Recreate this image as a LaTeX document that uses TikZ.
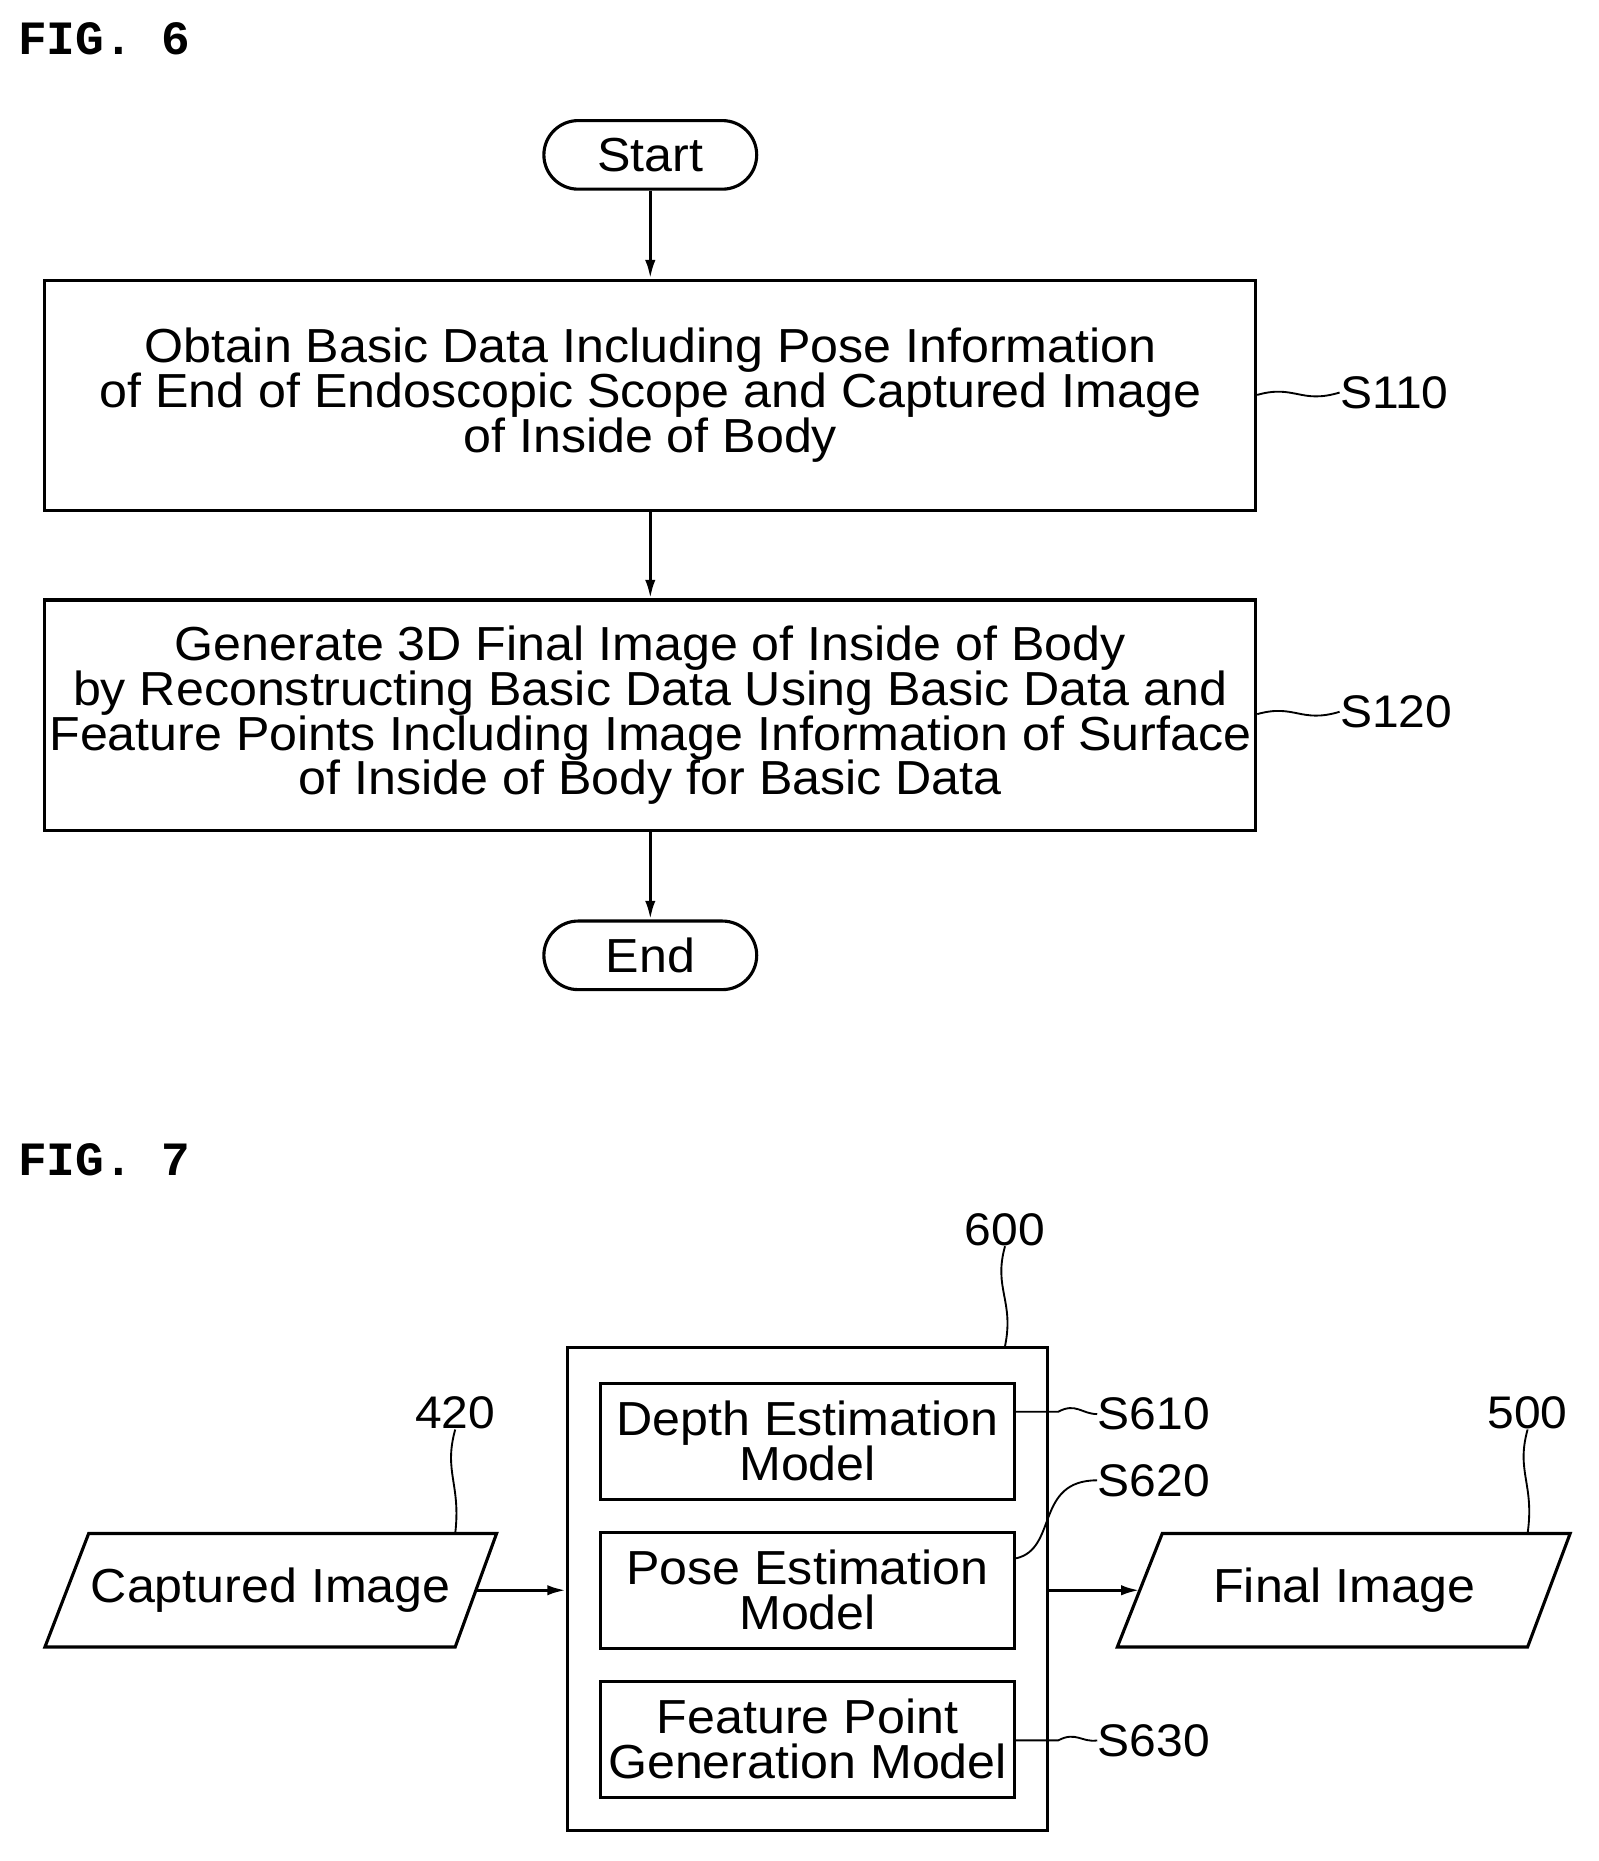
\documentclass[tikz,border=0pt]{standalone}
\usetikzlibrary{arrows.meta}
\usepackage{fontspec}
\setmainfont{Liberation Sans}[FakeStretch=1.05]
\newfontfamily\figfont{Liberation Mono}
\begin{document}
\begin{tikzpicture}[x=0.02cm,y=-0.02cm,
  lw/.style={line width=1.5pt},
  txt/.style={font=\fontsize{23}{21.6}\selectfont, align=center, inner sep=0pt},
  box/.style={draw, lw, minimum width=1024*0.02cm, minimum height=195*0.02cm, txt},
  term/.style={draw, lw, rounded corners=29*0.02cm, minimum width=180*0.02cm, minimum height=58*0.02cm, txt},
  inner/.style={draw, lw, minimum width=350*0.02cm, minimum height=98*0.02cm, txt},
  arr/.style={lw, -{Latex[length=9pt,width=5pt]}},
  lead/.style={line width=0.9pt},
  lbl/.style={font=\fontsize{22}{24}\selectfont, inner sep=0pt},
  fig/.style={font=\figfont\bfseries\fontsize{23}{24}\selectfont, inner sep=0pt, anchor=west}]
\useasboundingbox (0,0) rectangle (1352,1574);
\node[fig] (f6) at (15,33) {FIG. 6};
\node[term] (start) at (550,131) {Start};
\node[box] (s110) at (550,334.5) {Obtain Basic Data Including Pose Information\\of End of Endoscopic Scope and Captured Image\\of Inside of Body};
\node[box] (s120) at (550,605) {Generate 3D Final Image of Inside of Body\\by Reconstructing Basic Data Using Basic Data and\\Feature Points Including Image Information of Surface\\of Inside of Body for Basic Data};
\node[term] (end) at (550,808) {End};
\draw[arr] (start) -- (s110);
\draw[arr] (s110) -- (s120);
\draw[arr] (s120) -- (end);
\node[lbl, anchor=west] (l110) at (1133,332) {S110};
\node[lbl, anchor=west] (l120) at (1133,602) {S120};
\draw[lead] (s110.east |- 0,334) .. controls (1095,325) and (1100,342) .. (l110.west);
\draw[lead] (s120.east |- 0,604) .. controls (1095,595) and (1100,612) .. (l120.west);

\node[fig] (f7) at (15,981) {FIG. 7};
\node[draw, lw, minimum width=406*0.02cm, minimum height=408*0.02cm] (m600) at (683,1344) {};
\node[inner] (d) at (683,1219) {Depth Estimation\\Model};
\node[inner] (p) at (683,1345) {Pose Estimation\\Model};
\node[inner] (g) at (683,1471) {Feature Point\\Generation Model};
\node[lbl] (l600) at (850,1040) {600};
\draw[lead] (l600.south) .. controls (840,1090) and (858,1100) .. (m600.north -| 850,0);
\node[lbl, anchor=west] (l610) at (928,1196) {S610};
\node[lbl, anchor=west] (l620) at (928,1252) {S620};
\node[lbl, anchor=west] (l630) at (928,1472) {S630};
\draw[lead] (d.east |- 0,1194) -- (895,1194) .. controls (910,1186) and (915,1196) .. (l610.west);
\draw[lead] (p.east |- 0,1318) .. controls (895,1310) and (875,1252) .. (l620.west);
\draw[lead] (g.east |- 0,1472) -- (895,1472) .. controls (910,1464) and (915,1474) .. (l630.west);

\draw[lw] (38,1393) -- (75,1297) -- (420,1297) -- (385,1393) -- cycle;
\node[txt] (cap) at (229,1345) {Captured Image};
\coordinate (capr) at (403,1345);
\draw[lw] (945,1393) -- (983,1297) -- (1328,1297) -- (1292,1393) -- cycle;
\node[txt] (fin) at (1137,1345) {Final Image};
\coordinate (finl) at (964,1345);
\node[lbl] (l420) at (385,1195) {420};
\node[lbl] (l500) at (1292,1195) {500};
\draw[lead] (l420.south) .. controls (375,1245) and (390,1255) .. (385,1297);
\draw[lead] (l500.south) .. controls (1282,1245) and (1298,1255) .. (1292,1297);
\draw[arr] (capr) -- (m600.west |- capr);
\draw[arr] (m600.east |- finl) -- (finl);
\end{tikzpicture}
\end{document}
